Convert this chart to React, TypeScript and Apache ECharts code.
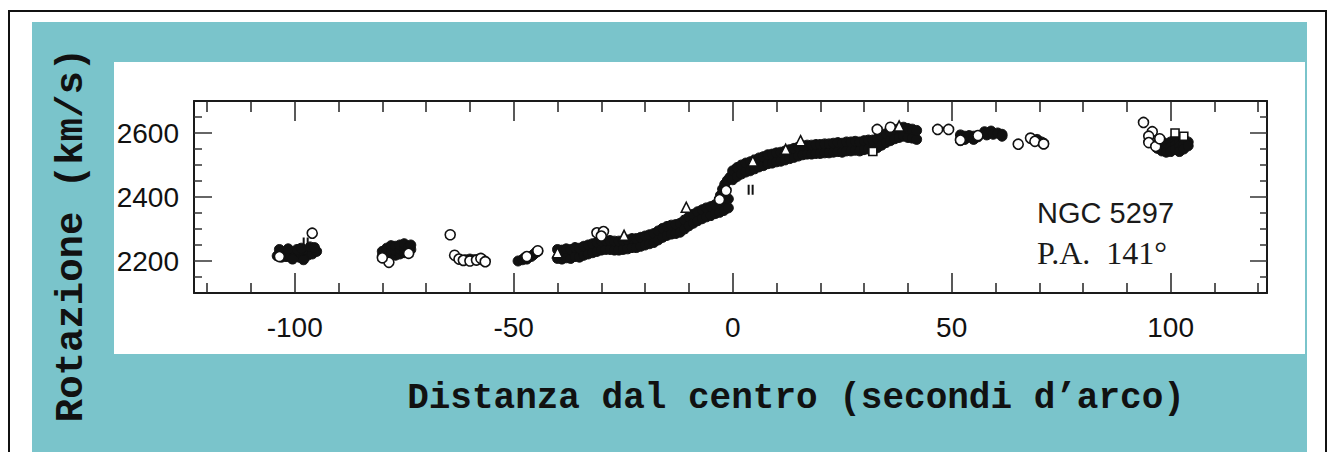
import React, { useEffect, useRef } from "react";
import * as echarts from "echarts";

// ---- axis / tick data ----
const xRange = [-123, 122];
const yRange = [2100, 2700];
const xMajorTicks = [-100, -50, 0, 50, 100];
const xMinorTicks = [-120, -110, -90, -80, -70, -60, -40, -30, -20, -10, 10, 20, 30, 40, 60, 70, 80, 90, 110, 120];
const yMajorTicks = [2200, 2400, 2600];
const yMinorTicks = [2150, 2250, 2300, 2350, 2450, 2500, 2550, 2650];

// ---- measurements (distance arcsec, velocity km/s) ----
// densely packed points that merge into the black band
const blobPoints: number[][] = [
  // cluster near -100
  [-104, 2216], [-103, 2222], [-103, 2212], [-102, 2226], [-102, 2214], [-101, 2220], [-101, 2212],
  [-100, 2226], [-100, 2214], [-99, 2222], [-99, 2212], [-98, 2228], [-98, 2216], [-97, 2232],
  [-97, 2218], [-96, 2236], [-96, 2222], [-95, 2230], [-103.5, 2236], [-101.5, 2238], [-99.5, 2236],
  [-98.5, 2240], [-96.5, 2244], [-95.5, 2242], [-100.5, 2206], [-98, 2204],
  // cluster near -76
  [-80, 2216], [-80, 2230], [-79, 2212], [-79, 2226], [-79, 2240], [-78, 2220], [-78, 2234], [-78, 2248],
  [-77, 2218], [-77, 2232], [-77, 2246], [-76, 2222], [-76, 2236], [-76, 2250], [-75, 2226], [-75, 2240],
  [-75, 2254], [-74, 2230], [-74, 2244], [-73.5, 2236], [-73.5, 2250],
  // cluster near -60
  [-61, 2204], [-60, 2206], [-59, 2204], [-58, 2206], [-57, 2204],
  // cluster near -46
  [-49, 2200], [-48, 2204], [-47.5, 2210], [-47, 2206], [-46, 2214], [-45.5, 2220], [-45, 2226], [-44.5, 2230],
  // main band
  [-40, 2208], [-40, 2236], [-39, 2206], [-39, 2234], [-38, 2210], [-38, 2238], [-37, 2208], [-37, 2236],
  [-36, 2214], [-36, 2242], [-35, 2212], [-35, 2240], [-34, 2218], [-34, 2246], [-33, 2222], [-33, 2250],
  [-32, 2226], [-32, 2254], [-31, 2230], [-31, 2258], [-30, 2234], [-30, 2262], [-29, 2236], [-29, 2264],
  [-28, 2236], [-28, 2264], [-27, 2234], [-27, 2262], [-26, 2234], [-26, 2262], [-25, 2236], [-25, 2264],
  [-24, 2238], [-24, 2266], [-23, 2242], [-23, 2270], [-22, 2242], [-22, 2270], [-21, 2246], [-21, 2274],
  [-20, 2250], [-20, 2278], [-19, 2254], [-19, 2282], [-18, 2258], [-18, 2286], [-17, 2266], [-17, 2294],
  [-16, 2274], [-16, 2302], [-15, 2280], [-15, 2308], [-14, 2284], [-14, 2312], [-13, 2286], [-13, 2314],
  [-12, 2290], [-12, 2318], [-11, 2300], [-11, 2328], [-10, 2310], [-10, 2338], [-9, 2318], [-9, 2346],
  [-8, 2326], [-8, 2354], [-7, 2332], [-7, 2360], [-6, 2338], [-6, 2366], [-5, 2342], [-5, 2370],
  [-4, 2348], [-4, 2376], [-3, 2352], [-3, 2380], [-2, 2358], [-2, 2386], [-1, 2366], [-1, 2394],
  [-2.8, 2405], [-2.3, 2425], [-1.8, 2440], [-1.2, 2452], [-0.6, 2462],
  [0, 2454], [0, 2482], [1, 2464], [1, 2492], [2, 2472], [2, 2500], [3, 2478], [3, 2506],
  [4, 2482], [4, 2510], [5, 2488], [5, 2516], [6, 2494], [6, 2522], [7, 2498], [7, 2526],
  [8, 2504], [8, 2532], [9, 2506], [9, 2534], [10, 2510], [10, 2538], [11, 2512], [11, 2540],
  [12, 2516], [12, 2544], [13, 2520], [13, 2548], [14, 2524], [14, 2552], [15, 2528], [15, 2556],
  [16, 2532], [16, 2560], [17, 2534], [17, 2562], [18, 2534], [18, 2562], [19, 2536], [19, 2564],
  [20, 2536], [20, 2564], [21, 2538], [21, 2566], [22, 2538], [22, 2566], [23, 2540], [23, 2568],
  [24, 2542], [24, 2570], [25, 2540], [25, 2568], [26, 2544], [26, 2572], [27, 2544], [27, 2572],
  [28, 2546], [28, 2574], [29, 2544], [29, 2572], [30, 2548], [30, 2576], [31, 2550], [31, 2578],
  [32, 2550], [32, 2578], [33, 2554], [33, 2582], [34, 2562], [34, 2590], [35, 2570], [35, 2598],
  [36, 2576], [36, 2604], [37, 2582], [37, 2610], [38, 2586], [38, 2614], [39, 2590], [39, 2618],
  [40, 2586], [40, 2614], [41, 2584], [41, 2612], [42, 2580], [42, 2608],
  // clusters beyond +50
  [52, 2594], [52, 2576], [53, 2590], [53, 2580], [54, 2592], [55, 2590], [55, 2580], [56, 2588],
  [57.5, 2604], [58, 2594], [59, 2606], [59.5, 2596], [60.5, 2600], [61.5, 2596], [61.5, 2590],
  [69.5, 2580], [70.5, 2572], [71, 2568],
  [97, 2566], [97, 2552], [98, 2574], [98, 2558], [98, 2544], [99, 2566], [99, 2550], [99, 2540],
  [100, 2572], [100, 2556], [100, 2542], [101, 2580], [101, 2562], [101, 2548], [102, 2574], [102, 2558],
  [102, 2542], [103, 2580], [103, 2564], [103, 2550], [104, 2572], [104, 2560],
];

const openCircles: number[][] = [
  [-96, 2287], [-78.5, 2196], [-80, 2210], [-74, 2224], [-103.5, 2214],
  [-64.5, 2282], [-63.5, 2218], [-62.5, 2206], [-61.5, 2202], [-60, 2200], [-58.5, 2203], [-57.5, 2208], [-56.5, 2198],
  [-44.5, 2232], [-47, 2214],
  [-31, 2288], [-29.5, 2292], [-30, 2278], [-3, 2392], [-1.5, 2420],
  [33, 2611], [36, 2618],
  [46.8, 2611], [49.3, 2611], [52, 2578], [56, 2592], [65.2, 2565], [68, 2584], [69, 2574], [71, 2566],
  [93.8, 2633], [95.8, 2604], [95, 2590], [95, 2570], [96.6, 2558], [97.5, 2582],
];

const triangles: number[][] = [
  [-40, 2226], [-24.8, 2280], [-10.6, 2368], [4.6, 2512], [12.1, 2549], [15.5, 2576], [38, 2622],
];

const squares: number[][] = [
  [32, 2542], [101, 2600], [103, 2590],
];

const bars: number[][] = [
  [-97.5, 2258], [4.1, 2423],
];

const yTitle = "Rotazione (km/s)";
const xTitle = "Distanza dal centro (secondi d\u2019arco)";
const galaxyName = "NGC 5297";
const positionAngle = "P.A.  141\u00b0";

const sans = "Liberation Sans";

function makeXAxis(position: string, ticks: number[], len: number, withLabels: boolean, withLine: boolean) {
  return {
    type: "value",
    position,
    min: xRange[0],
    max: xRange[1],
    splitLine: { show: false },
    axisLine: { show: withLine, onZero: false, lineStyle: { color: "#1a1a1a", width: 2 } },
    axisTick: { show: true, inside: true, length: len, customValues: ticks, lineStyle: { color: "#222", width: 1.5 } },
    axisLabel: withLabels
      ? { show: true, customValues: xMajorTicks, fontSize: 28, fontFamily: sans, color: "#111", margin: 20, formatter: (v: number) => String(v) }
      : { show: false },
  };
}

function makeYAxis(position: string, ticks: number[], len: number, withLabels: boolean, withLine: boolean) {
  return {
    type: "value",
    position,
    min: yRange[0],
    max: yRange[1],
    splitLine: { show: false },
    axisLine: { show: withLine, onZero: false, lineStyle: { color: "#1a1a1a", width: 2 } },
    axisTick: { show: true, inside: true, length: len, customValues: ticks, lineStyle: { color: "#333", width: 1.5 } },
    axisLabel: withLabels
      ? { show: true, customValues: yMajorTicks, fontSize: 28, fontFamily: sans, color: "#111", margin: 15, formatter: (v: number) => String(v) }
      : { show: false },
  };
}

export default function App() {
  const ref = useRef<HTMLDivElement>(null);
  useEffect(() => {
    if (!ref.current) return;
    const chart = echarts.init(ref.current, null, { renderer: "svg" });
    const openStyle = { color: "#ffffff", borderColor: "#111", borderWidth: 1.6, opacity: 1 };
    chart.setOption({
      animation: false,
      backgroundColor: "#ffffff",
      grid: { left: 194, top: 101, right: 61, bottom: 159, containLabel: false, outerBoundsMode: "none" },
      xAxis: [
        makeXAxis("bottom", xMajorTicks, 20, true, true),
        makeXAxis("bottom", xMinorTicks, 10, false, false),
        makeXAxis("top", xMajorTicks, 20, false, true),
        makeXAxis("top", xMinorTicks, 11, false, false),
      ],
      yAxis: [
        makeYAxis("left", yMajorTicks, 18, true, true),
        makeYAxis("left", yMinorTicks, 8, false, false),
        makeYAxis("right", yMajorTicks, 17, false, true),
        makeYAxis("right", yMinorTicks, 7, false, false),
      ],
      graphic: [
        { type: "rect", z: -10, shape: { x: 9, y: 11, width: 1317, height: 460 }, style: { fill: "#ffffff", stroke: "#111", lineWidth: 2 } },
        { type: "rect", z: -9, shape: { x: 32, y: 22, width: 1275, height: 440 }, style: { fill: "#7AC4CB" } },
        { type: "rect", z: -8, shape: { x: 114, y: 62, width: 1191, height: 292 }, style: { fill: "#ffffff" } },
        {
          type: "text", z: 10, x: 72, y: 235, rotation: Math.PI / 2,
          style: { text: yTitle, font: 'bold 39px "Liberation Mono"', fill: "#111", align: "center", verticalAlign: "middle" },
        },
        {
          type: "text", z: 10, x: 796, y: 398,
          style: { text: xTitle, font: 'bold 36px "Liberation Mono"', fill: "#111", align: "center", verticalAlign: "middle" },
        },
        {
          type: "text", z: 10, x: 1037, y: 213,
          style: { text: galaxyName, font: '29px "Liberation Sans"', fill: "#1a1a1a", align: "left", verticalAlign: "middle" },
        },
        {
          type: "text", z: 10, x: 1037, y: 253,
          style: { text: positionAngle, font: '32px "Liberation Serif"', fill: "#1a1a1a", align: "left", verticalAlign: "middle" },
        },
      ],
      series: [
        { type: "scatter", xAxisIndex: 0, yAxisIndex: 0, data: blobPoints, symbol: "circle", symbolSize: 10, itemStyle: { color: "#111", borderColor: "#111", borderWidth: 1, opacity: 1 }, silent: true },
        { type: "scatter", xAxisIndex: 0, yAxisIndex: 0, data: openCircles, symbol: "circle", symbolSize: 10, itemStyle: openStyle, silent: true },
        { type: "scatter", xAxisIndex: 0, yAxisIndex: 0, data: triangles, symbol: "triangle", symbolSize: 10, itemStyle: openStyle, silent: true },
        { type: "scatter", xAxisIndex: 0, yAxisIndex: 0, data: squares, symbol: "rect", symbolSize: 8, itemStyle: openStyle, silent: true },
        { type: "scatter", xAxisIndex: 0, yAxisIndex: 0, data: bars, symbol: "path://M0,0h2v10h-2zM4,0h2v10h-2z", symbolSize: [6, 10], itemStyle: { color: "#111", opacity: 1 }, silent: true },
      ],
    });
    return () => chart.dispose();
  }, []);
  return <div ref={ref} style={{ position: "fixed", left: 0, top: 0, width: 1328, height: 452 }} />;
}
